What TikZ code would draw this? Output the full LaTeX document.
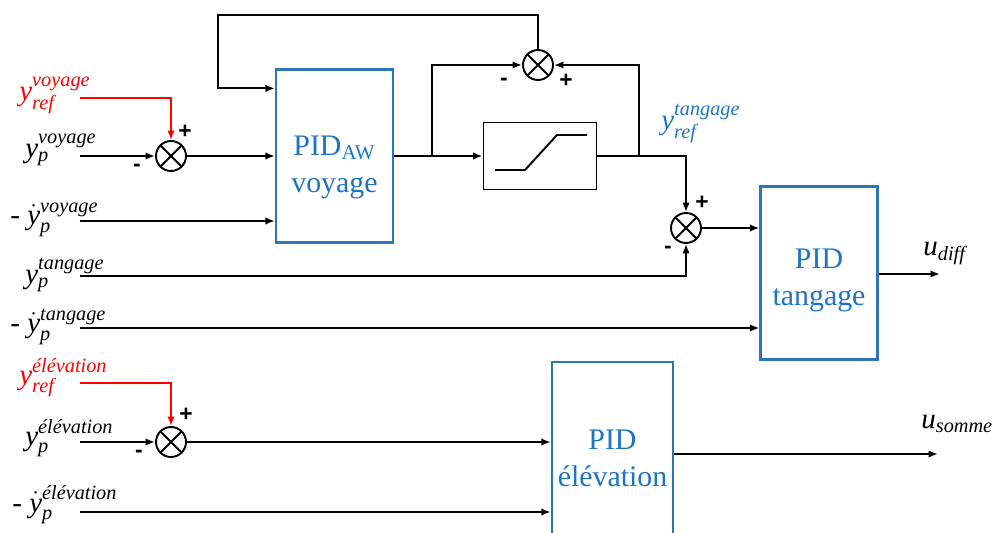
\documentclass[tikz,border=0pt]{standalone}
\usepackage{amsmath}
\usepackage{fontspec}
\setmainfont{Liberation Serif}
\newfontfamily\signfont{Liberation Sans}
\usetikzlibrary{arrows.meta}

\definecolor{pidblue}{RGB}{46,117,182}
\definecolor{txtblue}{RGB}{30,115,195}

\newcommand{\ysig}[2]{$\textit{y}^{\textit{#1}}_{\textit{#2}}$}
\newcommand{\ydsig}[2]{- $\dot{\textit{y}}^{\textit{#1}}_{\textit{#2}}$}

\tikzset{
  wire/.style={line width=1.1pt},
  conn/.style={wire, -{Latex[length=1.9mm,width=1.5mm]}},
  sumj/.style={circle, draw, line width=1.1pt, minimum size=0.6cm, inner sep=0pt,
    path picture={\draw[line width=1.1pt]
      (path picture bounding box.north west) -- (path picture bounding box.south east)
      (path picture bounding box.north east) -- (path picture bounding box.south west);}},
  pidbox/.style={draw=pidblue, line width=1.3pt, minimum width=2.34cm,
    minimum height=3.46cm, text=txtblue, align=center,
    font=\fontsize{17}{21}\selectfont},
  pidtxt/.style={text=txtblue, align=center, inner sep=0pt,
    font=\fontsize{17}{21}\selectfont},
  lbl/.style={anchor=base west, inner sep=0pt, font=\fontsize{16.5}{19}\selectfont},
  sgn/.style={inner sep=0pt, font=\signfont\bfseries\fontsize{13}{14}\selectfont},
}

\begin{document}
\begin{tikzpicture}[x=0.02cm,y=-0.02cm]
  \useasboundingbox (0,0) rectangle (993,533);

  % voyage loop
  \coordinate (inrv) at (80,98);
  \coordinate (inpv) at (80,156);
  \coordinate (indv) at (80,221);
  \coordinate (fbtop) at (218,15);
  \coordinate (br1) at (432,156);
  \coordinate (br2) at (639,156);
  \node[sumj] (s1) at (171,156) {};
  \node[pidbox] (aw) at (334.5,156) {};
  \node[pidtxt] (awt) at (334.5,167) {PID$_{\text{AW}}$\\voyage};
  \node[sumj] (s2) at (538,65) {};
  \node[draw, wire, minimum width=2.26cm, minimum height=1.34cm] (sat) at (540,156) {};
  \draw[wire] (495,170) -- (525,170) -- (557,135) -- (587,135);

  % tangage loop
  \coordinate (inpt) at (80,276);
  \coordinate (indt) at (80,328);
  \coordinate (udiff) at (940,274);
  \node[sumj] (s3) at (686,228) {};
  \node[pidbox] (tg) at (819,273) {};
  \node[pidtxt] (tgt) at (819,280) {PID\\tangage};

  % elevation loop
  \coordinate (inre) at (80,383);
  \coordinate (inpe) at (80,442);
  \coordinate (inde) at (80,512);
  \coordinate (usom) at (938,454);
  \node[sumj] (s4) at (171,442) {};
  \node[pidbox, minimum height=3.84cm] (el) at (612.5,458) {PID\\élévation};

  % connectors
  \draw[conn, red] (inrv) -| (s1);
  \draw[conn] (inpv) -- (s1);
  \draw[conn] (s1) -- (s1 -| aw.west);
  \draw[conn] (indv) -- (indv -| aw.west);
  \draw[conn] (s2) |- (fbtop) |- ([yshift=-0.4cm]aw.north west);
  \draw[conn] (aw) -- (sat);
  \draw[conn] (br1) |- (s2);
  \draw[conn] (sat) -| (s3);
  \draw[conn] (br2) |- (s2);
  \draw[conn] (s3) -- (s3 -| tg.west);
  \draw[conn] (inpt) -| (s3);
  \draw[conn] (indt) -- (indt -| tg.west);
  \draw[conn] (tg.east |- udiff) -- (udiff);
  \draw[conn, red] (inre) -| (s4);
  \draw[conn] (inpe) -- (s4);
  \draw[conn] (s4) -- (s4 -| el.west);
  \draw[conn] (inde) -- (inde -| el.west);
  \draw[conn] (el.east |- usom) -- (usom);

  % signals
  \node[lbl, text=red] (yrefv) at (19,101) {\ysig{voyage}{ref}};
  \node[lbl] (ypv) at (25,158) {\ysig{voyage}{p}};
  \node[lbl] (ydv) at (10,225) {\ydsig{voyage}{p}};
  \node[lbl] (ypt) at (25,284) {\ysig{tangage}{p}};
  \node[lbl] (ydt) at (10,333) {\ydsig{tangage}{p}};
  \node[lbl, text=red] (yrefe) at (19,384) {\ysig{élévation}{ref}};
  \node[lbl] (ype) at (25,445) {\ysig{élévation}{p}};
  \node[lbl] (yde) at (12,512) {\ydsig{élévation}{p}};
  \node[lbl, text=txtblue] (yreft) at (661,130) {\ysig{tangage}{ref}};
  \node[lbl] (udl) at (923,256) {$\textit{u}_{\textit{diff}}$};
  \node[lbl] (usl) at (921,428) {$\textit{u}_{\textit{somme}}$};

  % signs
  \node[sgn] (s1p) at (185,132) {+};
  \node[sgn] (s1m) at (137,168) {-};
  \node[sgn] (s2m) at (504,82) {-};
  \node[sgn] (s2p) at (566,81) {+};
  \node[sgn] (s3p) at (702,203) {+};
  \node[sgn] (s3m) at (668,250) {-};
  \node[sgn] (s4p) at (186,415) {+};
  \node[sgn] (s4m) at (139,454) {-};
\end{tikzpicture}
\end{document}
